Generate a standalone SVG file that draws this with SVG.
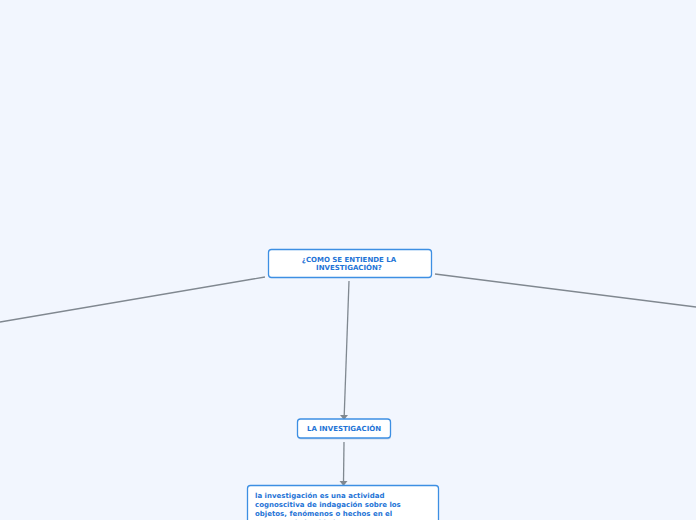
<svg xmlns="http://www.w3.org/2000/svg" width="696" height="520" viewBox="0 0 696 520">
<defs>
<style>
.node{fill:#ffffff;stroke:#3d8fe3;stroke-width:1.3}
.t{font-family:"DejaVu Sans",Verdana,sans-serif;font-weight:bold;font-size:7px;fill:#1f74d6}
.c{fill:none;stroke:#808890;stroke-width:1.3}
</style>
<marker id="ah" markerWidth="8" markerHeight="6" refX="4" refY="5" orient="auto-start-reverse" markerUnits="userSpaceOnUse" viewBox="0 0 8 6">
<path d="M0,0 L8,0 L4,5 Z" fill="#808890" transform="rotate(0)"/>
</marker>
</defs>
<rect width="696" height="520" fill="#f2f6fe"/>
<g id="connectors">
<line class="c" x1="265" y1="277" x2="0" y2="322"/>
<line class="c" x1="435" y1="274" x2="696" y2="307"/>
<line class="c" x1="349" y1="281" x2="344.2" y2="416"/>
<path d="M340,415 L348,415 L344,420 Z" fill="#808890"/>
<line class="c" x1="344" y1="442" x2="343.5" y2="482"/>
<path d="M339.5,481 L347.5,481 L343.5,486 Z" fill="#808890"/>
</g>
<g id="root">
<rect class="node" x="268.5" y="249.5" width="163" height="28" rx="3"/>
<text class="t" x="349" y="262" text-anchor="middle">¿COMO SE ENTIENDE LA</text>
<text class="t" x="349" y="270" text-anchor="middle">INVESTIGACIÓN?</text>
</g>
<g id="investigacion">
<rect x="298" y="420.5" width="93" height="19" rx="3" fill="#c9d6e6"/>
<rect class="node" x="297.5" y="419" width="93" height="19" rx="3"/>
<text class="t" x="344" y="431" text-anchor="middle">LA INVESTIGACIÓN</text>
</g>
<g id="definicion">
<rect class="node" x="247.5" y="485.5" width="191" height="50" rx="3"/>
<text class="t" x="255" y="498">la investigación es una actividad</text>
<text class="t" x="255" y="507">cognoscitiva de indagación sobre los</text>
<text class="t" x="255" y="516">objetos, fenómenos o hechos en el</text>
<text class="t" x="255" y="525">contexto de la vida humana, para encontrar</text>
</g>
</svg>
